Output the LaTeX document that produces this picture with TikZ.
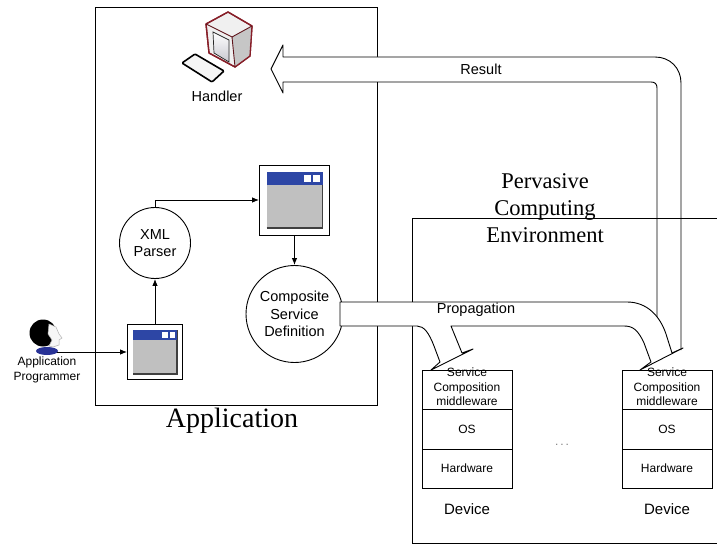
\documentclass[tikz,border=0pt]{standalone}
\usepackage{fontspec}
\setmainfont{Liberation Serif}
\setsansfont{Liberation Sans}
\usepackage{tikz}
\usetikzlibrary{arrows}
\usetikzlibrary{arrows.meta}
\usetikzlibrary{shapes}
\usetikzlibrary{calc}
\usetikzlibrary{positioning}
\definecolor{winblue}{RGB}{45,70,165}
\definecolor{wingray}{RGB}{192,192,192}
\definecolor{crtred}{RGB}{135,30,40}
\definecolor{shirtblue}{RGB}{40,50,150}
\newcommand{\sansmid}{\sffamily\fontsize{14.5}{17.5}\selectfont}
\newcommand{\sanssmall}{\sffamily\fontsize{12}{14.5}\selectfont}
\newcommand{\sansdev}{\sffamily\fontsize{15}{17}\selectfont}
\newcommand{\serifbig}{\rmfamily\fontsize{28}{32}\selectfont}
\newcommand{\serifmid}{\rmfamily\fontsize{22.5}{27}\selectfont}
\tikzstyle{flow}  = [
    draw,
    ->,
    >={Latex[length=7pt,width=5.5pt]}
]
\tikzstyle{proc}  = [
    shape=circle,
    draw,
    inner sep=0pt,
    align=center,
    font=\sansmid
]
\tikzstyle{win}   = [
    draw,
    fill=white,
    inner sep=0pt
]
\tikzstyle{bigarrow} = [
    draw,
    fill=white,
    line join=round
]
\tikzstyle{layer} = [
    draw,
    minimum width=90pt,
    inner sep=0pt,
    outer sep=0pt,
    align=center,
    font=\sanssmall
]
% window icon: name, centre, size
\newcommand{\appwin}[3]{
  \node[win, minimum size=#3] (#1) at #2 {};
  \begin{scope}[shift={#2}, x=#3, y=-#3]
    \fill[wingray] (-0.4,-0.4) rectangle (0.4,0.4);
    \draw[gray!50!black, line width=1.2pt] (-0.4,0.4) -- (0.4,0.4) -- (0.4,-0.4);
    \fill[winblue] (-0.4,-0.4) rectangle (0.4,-0.21);
    \fill[white] (0.13,-0.36) rectangle (0.23,-0.26);
    \fill[white] (0.27,-0.36) rectangle (0.37,-0.26);
  \end{scope}
}
% device stack: name, centre of the top layer
\newcommand{\device}[2]{
  \node[layer, minimum height=39pt] (#1mw) at #2 {};
  \node[font=\sanssmall, align=center, above=-20pt of #1mw.center] (#1mwtext)
    {Service\\Composition\\middleware};
  \node[layer, minimum height=40pt, below=0pt of #1mw] (#1os) {OS};
  \node[layer, minimum height=39pt, below=0pt of #1os] (#1hw) {Hardware};
  \node[font=\sansdev, below=12pt of #1hw] (#1lbl) {Device};
}

\begin{document}
\begin{tikzpicture}[x=1pt, y=-1pt, line width=0.9pt]
\useasboundingbox[fill=white] (0,0) rectangle (717,545);

% application side
\draw (95,7) rectangle (377,405);
\node[font=\serifbig] (app) at (232,421) {Application};

% handler terminal
\filldraw[fill=gray!12, draw=crtred, line width=1.3pt, line join=round]
  (206,24) -- (228,12) -- (252,26) -- (250,56) -- (235,67) -- (209,53) -- cycle;
\fill[gray!45] (232,37) -- (252,26) -- (250,56) -- (235,67) -- cycle;
\draw[crtred, line width=1.3pt, line join=round]
  (206,24) -- (228,12) -- (252,26) -- (250,56) -- (235,67) -- (209,53) -- cycle;
\draw[crtred!70!black] (206,24) -- (232,37) -- (252,26) (232,37) -- (235,67);
\shade[top color=white, bottom color=blue!8!gray!40] (213,32) -- (229,40) -- (229,62) -- (214,53) -- cycle;
\draw[gray!30!black, line width=0.7pt] (213,32) -- (229,40) -- (229,62) -- (214,53) -- cycle;
\filldraw[fill=gray!8, line width=1.6pt, rounded corners=1pt]
  (182,63) -- (195,54) -- (224,71) -- (212,82) -- cycle;
\node[font=\sansmid] (handler) at (217,96) {Handler};

% programmer
\fill[shirtblue] (47,351) ellipse (11pt and 4pt);
\fill[black] (43,333) circle (13.5pt);
\filldraw[fill=gray!6, draw=gray!60, line width=0.5pt]
  (49,324) -- (56,327) -- (59,334) -- (62,338) -- (59,340) -- (59,345)
  -- (53,347) -- (49,346) -- (52,340) -- (48,334) -- cycle;
\coordinate (prog) at (57,352);
\node[font=\sanssmall, align=center] (progname) at (47,370) {Application\\Programmer};

% specification flow
\appwin{win1}{(155,352)}{55pt}
\appwin{win2}{(294.5,200)}{70pt}
\node[proc, minimum size=71pt] (xml) at (155,243) {XML\\Parser};
\node[proc, minimum size=97pt] (csd) at (294.5,314) {Composite\\Service\\Definition};

\draw[flow] (prog) -- (win1);
\draw[flow] (win1) -- (xml);
\draw[flow] (xml) |- (win2);
\draw[flow] (win2) -- (csd);

% result back to the handler
\draw[bigarrow] (681,350) -- (681,83) .. controls (681,68) and (670,57) .. (655,57)
  -- (283,57) -- (283,45) -- (271,69) -- (283,93) -- (283,82) -- (651,82)
  .. controls (655,82) and (657,84) .. (657,88) -- (657,350);
\node[font=\sansmid] (result) at (481,69) {Result};

% pervasive computing environment
\draw (717,218) -- (412,218) -- (412,543) -- (717,543);
\node[font=\serifmid, align=center] (pce) at (545,208) {Pervasive\\Computing\\Environment};

% propagation to the devices
\draw[bigarrow] (340,302) -- (627,302) .. controls (647,302) and (660,316) .. (666,334)
  -- (672,353) -- (683,348) -- (640,370) -- (651,362) -- (644,343)
  .. controls (638,330) and (633,326) .. (624,326) -- (451,326) -- (462,353)
  -- (473,349) -- (431,370) -- (440,362) -- (434,346)
  .. controls (429,333) and (424,326) .. (417,326) -- (340,326) -- cycle;
\node[font=\sansmid] (prop) at (476,310) {Propagation};

\device{devA}{(467,389.5)}
\device{devB}{(667,389.5)}
\node[font=\sanssmall, text=gray] (dots) at (562,445) {.\,.\,.};

\end{tikzpicture}
\end{document}
